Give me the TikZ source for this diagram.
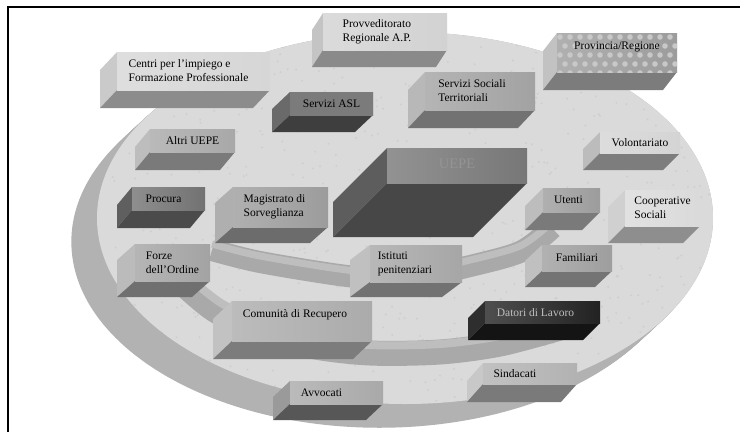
\documentclass[tikz,border=0pt]{standalone}
\usepackage{fontspec}
\setmainfont{Liberation Serif}
% colours: F = text face, L = left face, B = bottom face
\definecolor{cProvF}{HTML}{D2D2D2}\definecolor{cProvL}{HTML}{C4C4C4}\definecolor{cProvB}{HTML}{8A8A8A}
\definecolor{cCenF}{HTML}{D6D6D6}\definecolor{cCenL}{HTML}{CACACA}\definecolor{cCenB}{HTML}{8C8C8C}
\definecolor{cAslF}{HTML}{B0B0B0}\definecolor{cAslL}{HTML}{6A6A6A}\definecolor{cAslB}{HTML}{3E3E3E}
\definecolor{cSocF}{HTML}{A2A2A2}\definecolor{cSocL}{HTML}{B8B8B8}\definecolor{cSocB}{HTML}{727272}
\definecolor{cPrgF}{HTML}{9C9C9C}\definecolor{cPrgL}{HTML}{C2C2C2}\definecolor{cPrgB}{HTML}{7C7C7C}
\definecolor{cAltF}{HTML}{A8A8A8}\definecolor{cAltL}{HTML}{BDBDBD}\definecolor{cAltB}{HTML}{7A7A7A}
\definecolor{cVolF}{HTML}{D4D4D4}\definecolor{cVolL}{HTML}{BCBCBC}\definecolor{cVolB}{HTML}{7D7D7D}
\definecolor{cUepF}{HTML}{777777}\definecolor{cUepL}{HTML}{5D5D5D}\definecolor{cUepB}{HTML}{474747}
\definecolor{cProcF}{HTML}{727272}\definecolor{cProcL}{HTML}{5F5F5F}\definecolor{cProcB}{HTML}{4B4B4B}
\definecolor{cMagF}{HTML}{9C9C9C}\definecolor{cMagL}{HTML}{AFAFAF}\definecolor{cMagB}{HTML}{6C6C6C}
\definecolor{cUteF}{HTML}{9C9C9C}\definecolor{cUteL}{HTML}{BDBDBD}\definecolor{cUteB}{HTML}{7A7A7A}
\definecolor{cCoopF}{HTML}{DADADA}\definecolor{cCoopL}{HTML}{D0D0D0}\definecolor{cCoopB}{HTML}{8E8E8E}
\definecolor{cForF}{HTML}{A3A3A3}\definecolor{cForL}{HTML}{BBBBBB}\definecolor{cForB}{HTML}{707070}
\definecolor{cIstF}{HTML}{A6A6A6}\definecolor{cIstL}{HTML}{C0C0C0}\definecolor{cIstB}{HTML}{727272}
\definecolor{cFamF}{HTML}{9E9E9E}\definecolor{cFamL}{HTML}{C0C0C0}\definecolor{cFamB}{HTML}{747474}
\definecolor{cComF}{HTML}{ABABAB}\definecolor{cComL}{HTML}{C2C2C2}\definecolor{cComB}{HTML}{7C7C7C}
\definecolor{cDatF}{HTML}{222222}\definecolor{cDatL}{HTML}{2E2E2E}\definecolor{cDatB}{HTML}{141414}
\definecolor{cSinF}{HTML}{B2B2B2}\definecolor{cSinL}{HTML}{C8C8C8}\definecolor{cSinB}{HTML}{7A7A7A}
\definecolor{cAvvF}{HTML}{A9A9A9}\definecolor{cAvvL}{HTML}{9A9A9A}\definecolor{cAvvB}{HTML}{575757}
\definecolor{discTop}{HTML}{DADADA}
\definecolor{discSide}{HTML}{B2B2B2}
\definecolor{ringC}{HTML}{A9A9A9}
\definecolor{ringHi}{HTML}{BEBEBE}
\definecolor{dotC}{HTML}{C8C8C8}

\def\ebparse#1,#2,#3,#4,#5,#6\relax{\def\ebXa{#1}\def\ebYa{#2}\def\ebXb{#3}\def\ebYb{#4}\def\ebDx{#5}\def\ebDy{#6}}
% #1 node name, #2 x1,y1,x2,y2,dx,dy, #3 colour prefix, #4 node options, #5 text, #6 extra drawing on face
\newcommand{\ebox}[6]{%
  \ebparse#2\relax
  \fill[#3L] (\ebXa,\ebYa) -- (\ebXa,\ebYb) -- ({\ebXa-\ebDx},{\ebYb+\ebDy}) -- ({\ebXa-\ebDx},{\ebYa+\ebDy}) -- cycle;
  \fill[#3B] (\ebXa,\ebYb) -- (\ebXb,\ebYb) -- ({\ebXb-\ebDx},{\ebYb+\ebDy}) -- ({\ebXa-\ebDx},{\ebYb+\ebDy}) -- cycle;
  \shade[left color=#3F!80!white, right color=#3F] (\ebXa,\ebYa) rectangle (\ebXb,\ebYb);
  #6
  \node[boxtext,#4] (#1) at ({(\ebXa+\ebXb)/2},{(\ebYa+\ebYb)/2}) {#5};
}

\begin{document}
\begin{tikzpicture}[x=1pt,y=-1pt,
  boxtext/.style={font=\fontsize{11.5}{14}\selectfont, align=left, inner sep=0pt, text=black},
  ringband/.style={line width=#1, line cap=butt, color=ringC},
  ringlight/.style={line width=#1, line cap=butt, color=ringHi}]
\useasboundingbox (0,0) rectangle (740,432);
\fill[white] (0,0) rectangle (740,432);

% disc with its visible thickness
\foreach \t in {0,0.05,...,1.0}
  \fill[discSide] ({405-27*\t},{218+25*\t}) ellipse [x radius=308pt, y radius=186pt];
\fill[discTop] (405,218) ellipse [x radius=308pt, y radius=186pt];
% speckled texture of the disc
\begin{scope}
  \clip (405,218) ellipse [x radius=308pt, y radius=186pt];
  \pgfmathsetseed{7}
  \foreach \k in {1,...,700}{
    \pgfmathsetmacro{\sx}{405+305*rand}
    \pgfmathsetmacro{\sy}{218+185*rand}
    \fill[black!40, opacity=0.18] (\sx,\sy) circle (1.1pt);}
\end{scope}

% inner ring A
\draw[ringband=22pt] plot[smooth] coordinates {(212,250) (260,262) (347,276) (410,280) (462,268) (520,252) (552,228)};
\draw[ringlight=7pt] plot[smooth] coordinates {(212,244) (260,256) (347,270) (410,274) (462,262) (520,246) (552,222)};
% middle ring B
\draw[ringband=25pt] plot[smooth] coordinates {(188,288) (215,310) (255,330) (310,346) (370,353) (440,352) (500,344) (560,328)};
\draw[ringlight=8pt] plot[smooth] coordinates {(194,282) (221,303) (260,322) (312,338) (370,345) (440,344) (500,336) (560,320)};

% boxes, back to front
\ebox{prov}{323,13,447,50,11,17}{cProv}{xshift=-8pt}{Provveditorato\\Regionale A.P.}{}
\ebox{provreg}{557,33,677,72,14,18}{cPrg}{yshift=6pt}{Provincia/Regione}{%
  \begin{scope}
    \clip (557,33) rectangle (677,72);
    \foreach \i in {0,...,12}{\foreach \j in {0,...,4}{
      \pgfmathsetmacro{\px}{560+\i*10+mod(\j,2)*5}
      \pgfmathsetmacro{\py}{37+\j*9}
      \fill[dotC] (\px,\py) circle (2.8pt);}}
  \end{scope}}
\ebox{centri}{117,52,270,90,17,18}{cCen}{xshift=-5pt}{Centri per l'impiego e\\Formazione Professionale}{}
\ebox{sociali}{425,72,535,110,17,18}{cSoc}{xshift=-8pt}{Servizi Sociali\\Territoriali}{}
\ebox{asl}{290,92,373,115,18,17}{cAsl}{}{Servizi ASL}{%
  \shade[left color=cAslF!70!black, middle color=cAslF!60!white, right color=cAslF!70!black] (\ebXa,\ebYa) rectangle (\ebXb,\ebYb);}
\ebox{altri}{150,129,235,152,15,18}{cAlt}{}{Altri UEPE}{}
\ebox{volont}{600,132,680,153,17,17}{cVol}{}{Volontariato}{}
\ebox{uepe}{387,148,527,183,54,54}{cUep}{font=\fontsize{14.5}{16}\selectfont, text=black!42, yshift=2pt}{UEPE}{}
\ebox{procura}{132,187,205,210,15,18}{cProc}{xshift=-5pt}{Procura}{}
\ebox{magistrato}{233,187,328,227,18,16}{cMag}{xshift=-6pt}{Magistrato di\\Sorveglianza}{}
\ebox{utenti}{543,188,600,212,18,18}{cUte}{xshift=-3pt}{Utenti}{}
\ebox{coop}{625,190,700,226,17,17}{cCoop}{}{Cooperative\\Sociali}{}
\ebox{forze}{135,244,210,281,18,16}{cFor}{}{Forze\\dell'Ordine}{}
\ebox{istituti}{370,245,462,282,20,15}{cIst}{xshift=-11pt}{Istituti\\penitenziari}{}
\ebox{familiari}{542,245,612,271,17,16}{cFam}{}{Familiari}{}
\ebox{comunita}{232,301,372,341,19,18}{cCom}{xshift=-7pt, yshift=6pt}{Comunità di Recupero}{}
\ebox{datori}{485,301,600,323,17,17}{cDat}{xshift=-7pt, yshift=-1pt, text=black!25}{Datori di Lavoro}{}
\ebox{sindacati}{483,363,577,384,16,18}{cSin}{xshift=-15pt}{Sindacati}{}
\ebox{avvocati}{290,381,383,404,17,16}{cAvv}{xshift=-15pt}{Avvocati}{}

% frame
\draw[line width=1.3pt] (8,432) -- (8,7) -- (740,7);
\end{tikzpicture}
\end{document}
